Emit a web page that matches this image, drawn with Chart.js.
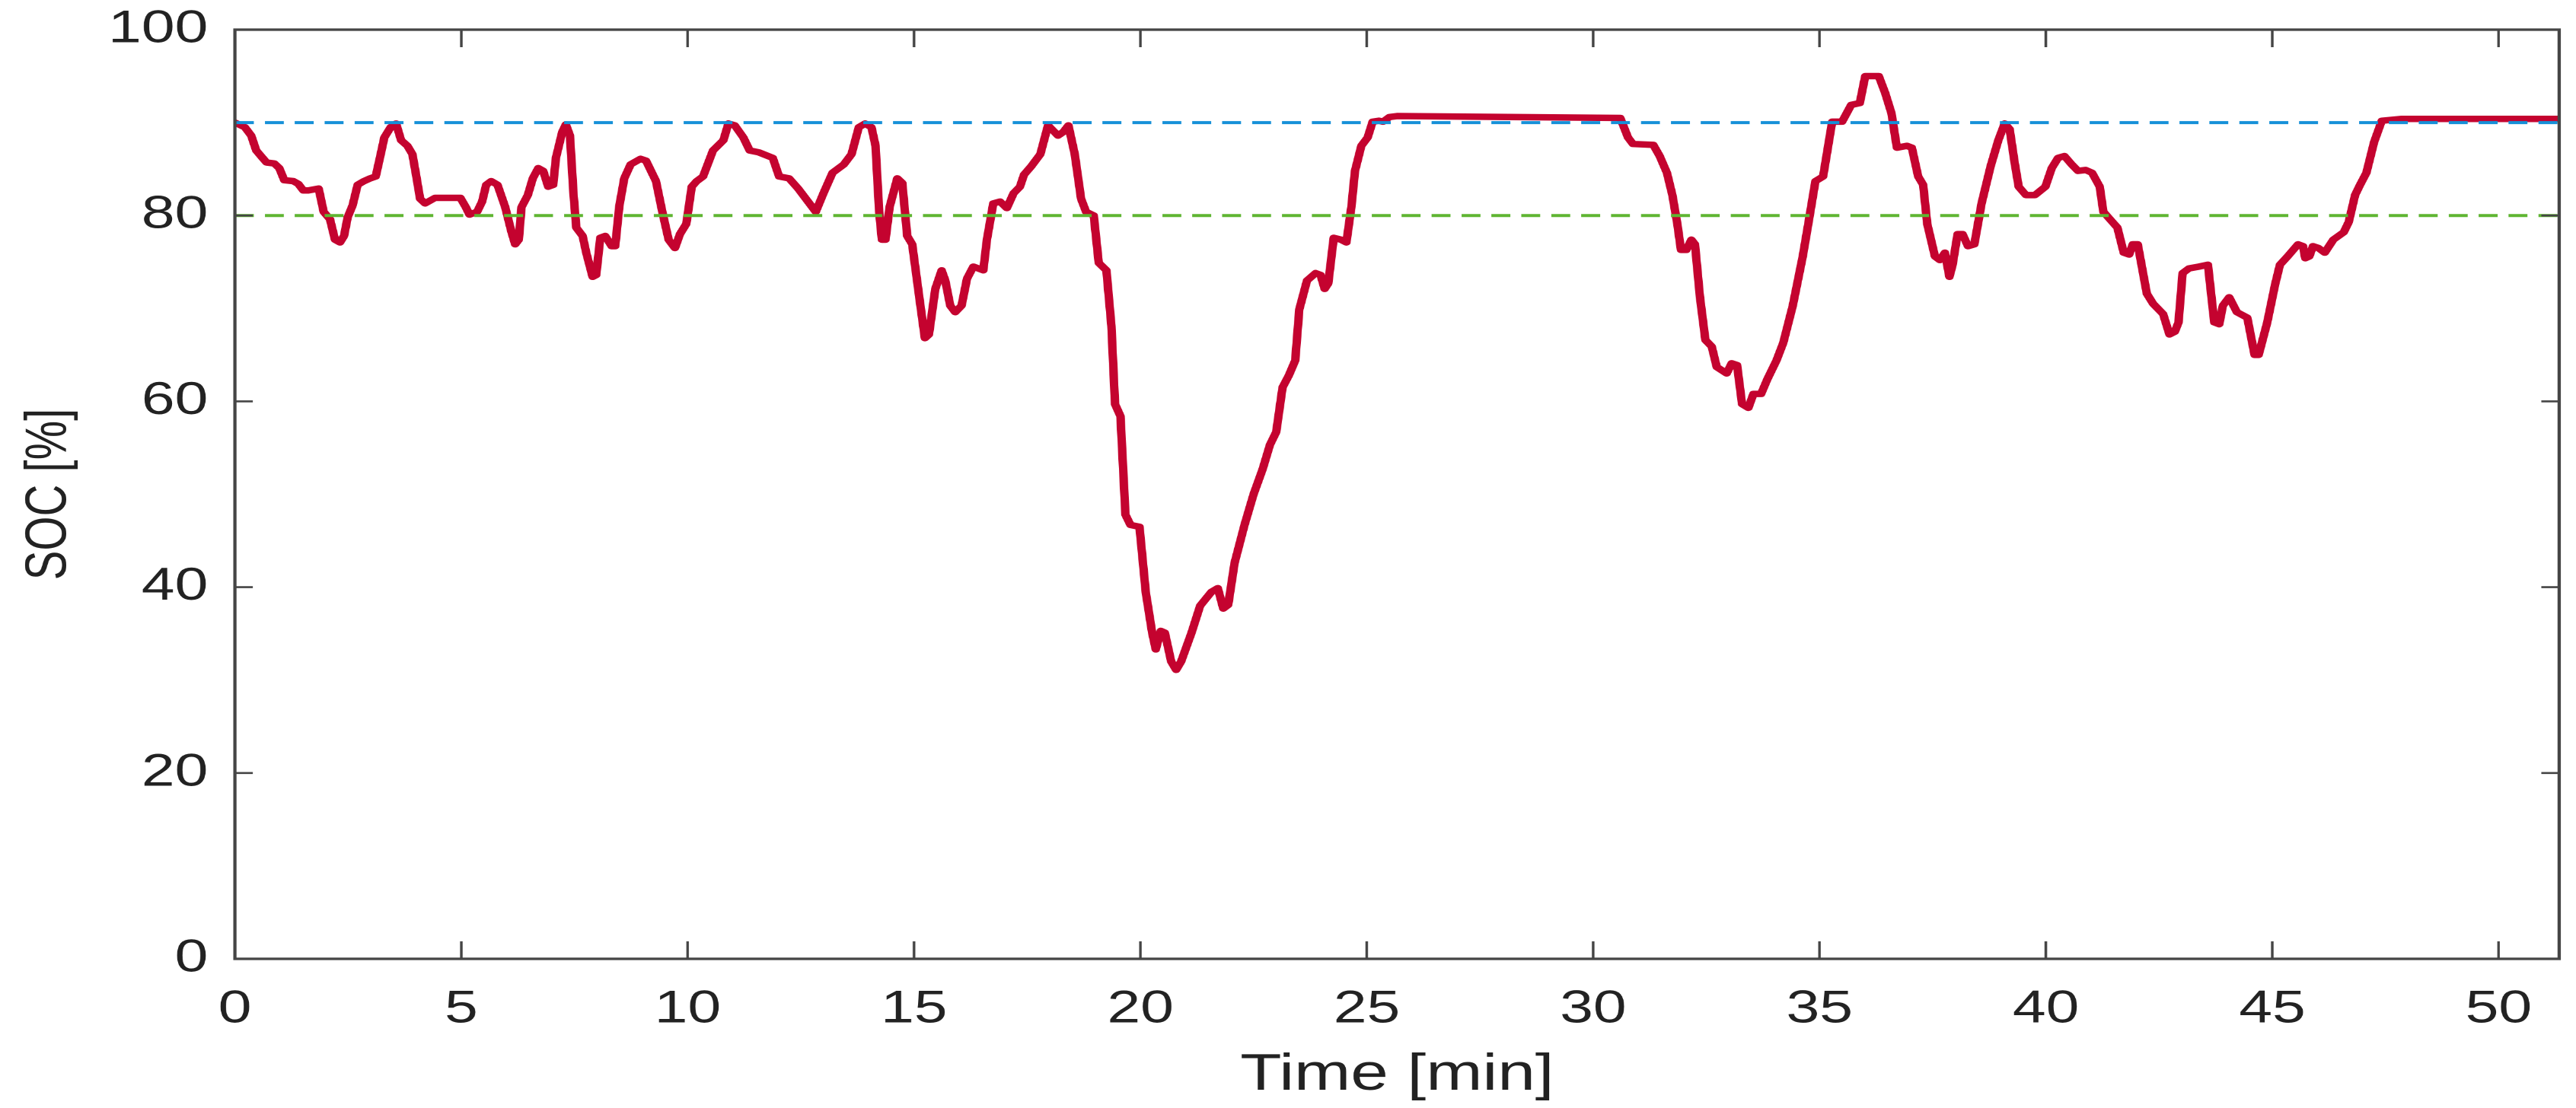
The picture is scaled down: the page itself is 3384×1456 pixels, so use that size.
<!DOCTYPE html>
<html>
<head>
<meta charset="utf-8">
<title>SOC over time</title>
<script src="https://cdn.jsdelivr.net/npm/chart.js@4"></script>
<style>
  html, body { margin: 0; padding: 0; background: #fff; overflow: hidden; }
  #wrap { position: absolute; left: 0; top: 0; height: 1456px; transform-origin: 0 0; }
</style>
</head>
<body>
<div id="wrap"><canvas id="soc-chart"></canvas></div>
<script>
// time axis [min]
const timeMin = [
  0.00, 0.22, 0.36, 0.47, 0.61, 0.70, 0.87, 0.98, 1.09, 1.29, 1.40, 1.51, 1.62, 1.85, 1.96, 2.10,
  2.21, 2.32, 2.41, 2.49, 2.60, 2.71, 2.85, 2.99, 3.11, 3.22, 3.30, 3.44, 3.56, 3.67, 3.81, 3.92,
  4.00, 4.09, 4.20, 4.42, 4.98, 5.10, 5.18, 5.35, 5.46, 5.55, 5.66, 5.80, 5.97, 6.11, 6.19, 6.27,
  6.33, 6.47, 6.58, 6.70, 6.81, 6.92, 7.03, 7.09, 7.23, 7.31, 7.40, 7.48, 7.54, 7.68, 7.76, 7.90,
  7.98, 8.07, 8.18, 8.32, 8.40, 8.49, 8.60, 8.74, 8.96, 9.08, 9.30, 9.44, 9.58, 9.72, 9.83, 9.97,
  10.09, 10.20, 10.34, 10.56, 10.79, 10.90, 11.04, 11.23, 11.37, 11.57, 11.88, 12.02, 12.24, 12.44,
  12.83, 13.00, 13.20, 13.45, 13.62, 13.78, 13.92, 14.06, 14.15, 14.23, 14.29, 14.37, 14.46, 14.63,
  14.74, 14.85, 14.96, 15.13, 15.24, 15.33, 15.47, 15.61, 15.69, 15.80, 15.91, 16.05, 16.17, 16.31,
  16.53, 16.61, 16.75, 16.90, 17.05, 17.20, 17.34, 17.43, 17.59, 17.79, 17.96, 18.18, 18.30, 18.41,
  18.55, 18.69, 18.80, 18.97, 19.08, 19.25, 19.36, 19.44, 19.56, 19.67, 19.78, 19.98, 20.12, 20.26,
  20.34, 20.45, 20.54, 20.68, 20.79, 20.90, 21.13, 21.32, 21.57, 21.71, 21.83, 21.94, 22.08, 22.30,
  22.50, 22.70, 22.86, 23.00, 23.14, 23.28, 23.42, 23.51, 23.68, 23.87, 23.98, 24.07, 24.15, 24.27,
  24.43, 24.55, 24.66, 24.74, 24.88, 25.02, 25.13, 25.27, 25.36, 25.50, 25.67, 30.60, 30.77, 30.88,
  31.33, 31.47, 31.63, 31.75, 31.86, 31.94, 32.06, 32.17, 32.25, 32.36, 32.48, 32.62, 32.73, 32.95,
  33.06, 33.18, 33.29, 33.43, 33.54, 33.71, 33.85, 34.05, 34.20, 34.41, 34.63, 34.77, 34.91, 35.08,
  35.28, 35.50, 35.70, 35.89, 36.01, 36.31, 36.45, 36.59, 36.71, 36.93, 37.04, 37.18, 37.29, 37.38,
  37.55, 37.66, 37.77, 37.87, 37.94, 38.05, 38.16, 38.28, 38.42, 38.58, 38.78, 38.95, 39.09, 39.20,
  39.31, 39.40, 39.56, 39.76, 39.99, 40.13, 40.27, 40.41, 40.57, 40.71, 40.88, 41.02, 41.19, 41.27,
  41.47, 41.58, 41.72, 41.84, 41.92, 42.03, 42.23, 42.37, 42.59, 42.73, 42.85, 42.93, 43.02, 43.16,
  43.38, 43.58, 43.72, 43.83, 43.91, 44.05, 44.22, 44.45, 44.61, 44.70, 44.89, 45.06, 45.17, 45.34,
  45.57, 45.68, 45.73, 45.82, 45.90, 46.02, 46.16, 46.35, 46.58, 46.69, 46.83, 46.94, 47.08, 47.25,
  47.42, 47.86, 51.34
];

// state of charge [%]
const socPct = [
  90.0, 89.5, 88.6, 87.0, 86.2, 85.7, 85.6, 85.1, 83.8, 83.7, 83.4, 82.7, 82.7, 82.9, 80.4, 79.6,
  77.4, 77.1, 77.8, 79.8, 81.1, 83.3, 83.7, 84.0, 84.2, 86.6, 88.4, 89.5, 89.9, 88.1, 87.5, 86.6,
  84.4, 81.8, 81.3, 81.9, 81.9, 80.9, 80.1, 80.4, 81.5, 83.3, 83.7, 83.3, 80.9, 78.2, 76.9, 77.4,
  80.9, 82.2, 84.0, 85.1, 84.8, 83.1, 83.3, 86.2, 89.0, 89.8, 88.6, 82.2, 78.7, 77.8, 76.0, 73.4,
  73.6, 77.6, 77.8, 76.7, 76.7, 81.0, 84.0, 85.5, 86.1, 85.9, 83.7, 80.4, 77.4, 76.5, 78.0, 79.1,
  83.1, 83.7, 84.2, 87.0, 88.1, 89.9, 89.7, 88.4, 87.0, 86.8, 86.2, 84.2, 84.0, 82.9,
  80.4, 82.4, 84.6, 85.5, 86.6, 89.5, 89.9, 89.5, 87.5, 80.4, 77.4, 77.4, 80.9, 84.0,
  83.5, 77.8, 76.9, 70.7, 66.8, 67.2, 72.1, 74.1, 73.0, 70.3, 69.6, 70.3, 73.2, 74.5,
  74.1, 77.4, 81.3, 81.5, 80.8, 82.4, 83.1, 84.4, 85.3, 86.6, 89.7, 88.6, 89.0, 89.7,
  86.6, 81.8, 80.4, 80.0, 74.9, 74.1, 68.1, 59.7, 58.4, 47.8, 46.7, 46.5, 39.4, 35.1,
  33.3, 35.3, 35.1, 32.0, 31.1, 32.0, 35.1, 38.0, 39.5, 39.9, 37.7, 38.1, 42.6, 46.7,
  50.0, 52.7, 55.3, 56.7, 61.5, 62.8, 64.4, 69.9, 73.0, 73.8, 73.6, 72.1, 72.7, 77.6,
  77.4, 77.1, 80.9, 84.8, 87.5, 88.4, 90.1, 90.2, 90.1, 90.6, 90.7, 90.5, 88.4, 87.7,
  87.6, 86.4, 84.6, 82.2, 79.1, 76.3, 76.3, 77.4, 76.9, 71.2, 66.6, 65.9, 63.7, 63.0,
  64.1, 63.9, 59.7, 59.3, 60.8, 60.8, 62.4, 64.4, 66.3, 70.3, 75.6, 79.6, 83.7, 84.2,
  90.1, 90.1, 91.9, 92.1, 95.0, 95.0, 93.2, 91.0, 87.3, 87.5, 87.3, 84.2, 83.3, 79.1,
  75.6, 75.2, 76.0, 73.4, 74.7, 78.0, 78.0, 76.7, 76.9, 81.3, 85.3, 88.1, 89.9, 89.3,
  85.7, 83.1, 82.2, 82.2, 83.1, 85.1, 86.2, 86.4, 85.5, 84.8, 84.9, 84.6, 83.1, 80.4,
  79.3, 78.7, 76.0, 75.8, 76.9, 76.9, 71.6, 70.5, 69.4, 67.2, 67.5, 68.5, 73.8, 74.3,
  74.5, 74.7, 68.5, 68.3, 70.3, 71.2, 69.6, 69.0, 65.0, 65.0, 68.5, 72.5, 74.7, 75.6,
  76.9, 76.7, 75.4, 75.6, 76.7, 76.5, 76.0, 77.4, 78.2, 79.3, 82.2, 83.3, 84.6, 87.9,
  90.2, 90.4, 90.4
];

const upperLimit = 90;
const lowerLimit = 80;
const timeMax = 51.34;
const xTicks = [0, 5, 10, 15, 20, 25, 30, 35, 40, 45, 50];
const yTicks = [0, 20, 40, 60, 80, 100];

// the reference is stretched sideways, so draw narrow and scale the box in x
const stretch = 1.31;
const innerW = 3384 / stretch;
document.getElementById('wrap').style.width = innerW + 'px';
document.getElementById('wrap').style.transform = 'scaleX(' + stretch + ')';

const axisColor = '#454545';
const textColor = '#222';
const fontFamily = '"Liberation Sans", Arial, Helvetica, sans-serif';

// box round the plot with inward tick marks on all four sides
const frameTicks = {
  id: 'frameTicks',
  afterDatasetsDraw(chart) {
    const { ctx, chartArea: a, scales: { x, y } } = chart;
    ctx.save();
    ctx.strokeStyle = axisColor;
    ctx.lineWidth = 2.6;
    ctx.beginPath();
    xTicks.forEach(v => {
      const px = x.getPixelForValue(v);
      ctx.moveTo(px, a.bottom); ctx.lineTo(px, a.bottom - 23);
      ctx.moveTo(px, a.top); ctx.lineTo(px, a.top + 23);
    });
    yTicks.forEach(v => {
      const py = y.getPixelForValue(v);
      ctx.moveTo(a.left, py); ctx.lineTo(a.left + 18, py);
      ctx.moveTo(a.right, py); ctx.lineTo(a.right - 18, py);
    });
    ctx.stroke();
    ctx.lineWidth = 3.3;
    ctx.strokeRect(a.left, a.top, a.right - a.left, a.bottom - a.top);
    ctx.restore();
  }
};

const limitLine = (value, color) => ({
  data: [{ x: 0, y: value }, { x: timeMax, y: value }],
  borderColor: color,
  borderWidth: 4,
  borderDash: [19, 11],
  pointRadius: 0,
  tension: 0,
});

new Chart(document.getElementById('soc-chart'), {
  type: 'line',
  data: {
    datasets: [
      limitLine(upperLimit, '#1690d8'),
      limitLine(lowerLimit, '#5fb532'),
      {
        data: timeMin.map((t, i) => ({ x: t, y: socPct[i] })),
        borderColor: '#c4032f',
        borderWidth: 8.5,
        borderJoinStyle: 'round',
        borderCapStyle: 'round',
        pointRadius: 0,
        tension: 0,
      },
    ],
  },
  options: {
    responsive: true,
    maintainAspectRatio: false,
    devicePixelRatio: 2,
    animation: false,
    layout: { padding: { top: 39, right: innerW - 3362 / stretch, bottom: 0, left: 0 } },
    plugins: { legend: { display: false }, tooltip: { enabled: false } },
    scales: {
      x: {
        type: 'linear',
        min: 0,
        max: timeMax,
        afterBuildTicks: scale => { scale.ticks = xTicks.map(v => ({ value: v })); },
        afterFit: scale => {
          scale.height = 1456 - 1260;
          scale.paddingLeft = 0;
          scale.paddingRight = 0;
        },
        grid: { display: false, drawTicks: false },
        border: { display: false },
        ticks: { color: textColor, padding: 31, maxRotation: 0, font: { family: fontFamily, size: 60 } },
        title: {
          display: true,
          text: 'Time [min]',
          color: textColor,
          font: { family: fontFamily, size: 68 },
          padding: { top: 0, bottom: 2 },
        },
      },
      y: {
        min: 0,
        max: 100,
        afterBuildTicks: scale => { scale.ticks = yTicks.map(v => ({ value: v })); },
        afterFit: scale => {
          scale.width = 308.6 / stretch;
          scale.paddingTop = 0;
          scale.paddingBottom = 0;
        },
        grid: { display: false, drawTicks: false },
        border: { display: false },
        ticks: { color: textColor, padding: 27, font: { family: fontFamily, size: 60 } },
        title: {
          display: true,
          text: 'SOC [%]',
          color: textColor,
          font: { family: fontFamily, size: 58 },
          padding: { top: 15, bottom: 0 },
        },
      },
    },
  },
  plugins: [frameTicks],
});
</script>
</body>
</html>
